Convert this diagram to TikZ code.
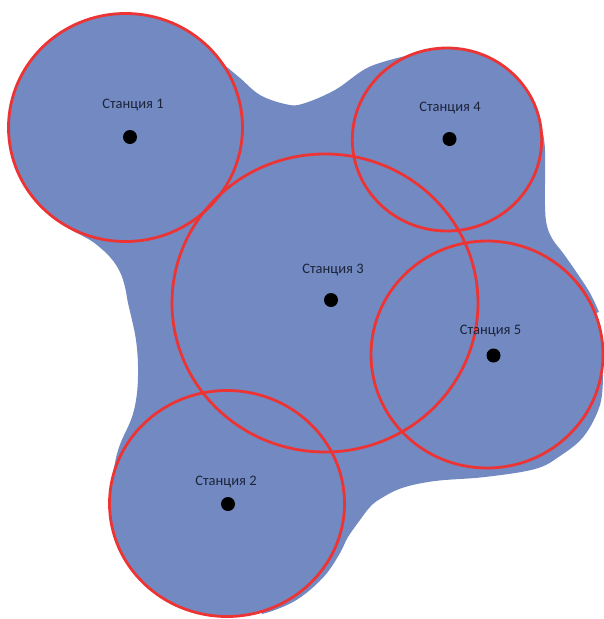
\documentclass[tikz,border=0pt]{standalone}
\usepackage{fontspec}
\setmainfont{Carlito}
\definecolor{blobblue}{RGB}{115,137,194}
\definecolor{ringred}{RGB}{236,52,52}
\definecolor{labelink}{RGB}{28,36,58}
\begin{document}
\begin{tikzpicture}[x=1pt,y=-1pt,
  ring/.style={draw=ringred,line width=2.8pt},
  dotnode/.style={circle,fill=black,inner sep=0pt,minimum size=14pt},
  stlabel/.style={anchor=base,text=labelink,font=\fontsize{14.5}{16}\selectfont,inner sep=0pt}]
\useasboundingbox (0,0) rectangle (604,619);
% centres
\coordinate (c1) at (125.5,127.5);
\coordinate (c2) at (227,503.5);
\coordinate (c3) at (325,303);
\coordinate (c4) at (447,139.5);
\coordinate (c5) at (487,354.5);
% blue coverage: bridges between circles
\fill[blobblue] (c1)
  -- plot[smooth,tension=0.6] coordinates {(222,63) (240,78) (260,95) (285,104) (302,104) (335,90) (369,67) (410,55)}
  -- (c4)
  -- plot[smooth,tension=0.6] coordinates {(542,130) (545,150) (545,205) (547,226) (553,240) (563,253) (577,273) (590,293) (599,312)}
  -- (c5)
  -- plot[smooth,tension=0.6] coordinates {(603,375) (600,405) (584,436) (560,456) (535,469) (485,477) (435,481) (402,488) (380,499) (370,507) (360,520) (348,537) (340,553) (327,573) (310,590) (293,602) (275,610) (262,614)}
  -- (c2)
  -- plot[smooth,tension=0.6] coordinates {(112,480) (116,458) (121,442) (132,417) (137,393) (138,365) (136,340) (132,320) (128,303) (125,287) (120,272) (110,257) (93,242) (75,232) (68,228)}
  -- cycle;
\fill[blobblue] (c1) ellipse [x radius=117pt, y radius=114pt];
\fill[blobblue] (c2) ellipse [x radius=117.5pt, y radius=113pt];
\fill[blobblue] (c3) ellipse [x radius=153pt, y radius=149pt];
\fill[blobblue] (c4) ellipse [x radius=94.7pt, y radius=91.5pt];
\fill[blobblue] (c5) ellipse [x radius=116pt, y radius=113.5pt];
% red rings
\draw[ring] (c1) ellipse [x radius=117pt, y radius=114pt];
\draw[ring] (c2) ellipse [x radius=117.5pt, y radius=113pt];
\draw[ring] (c3) ellipse [x radius=153pt, y radius=149pt];
\draw[ring] (c4) ellipse [x radius=94.7pt, y radius=91.5pt];
\draw[ring] (c5) ellipse [x radius=116pt, y radius=113.5pt];
% stations
\node[dotnode] (s1) at (130,137) {};
\node[dotnode] (s2) at (228,504) {};
\node[dotnode] (s3) at (331,300) {};
\node[dotnode] (s4) at (449.5,139) {};
\node[dotnode] (s5) at (493.5,355.5) {};
\node[stlabel] (l1) at (133,108.3) {Станция 1};
\node[stlabel] (l2) at (226,485) {Станция 2};
\node[stlabel] (l3) at (333,273) {Станция 3};
\node[stlabel] (l4) at (450,111) {Станция 4};
\node[stlabel] (l5) at (490.5,334) {Станция 5};
\end{tikzpicture}
\end{document}
